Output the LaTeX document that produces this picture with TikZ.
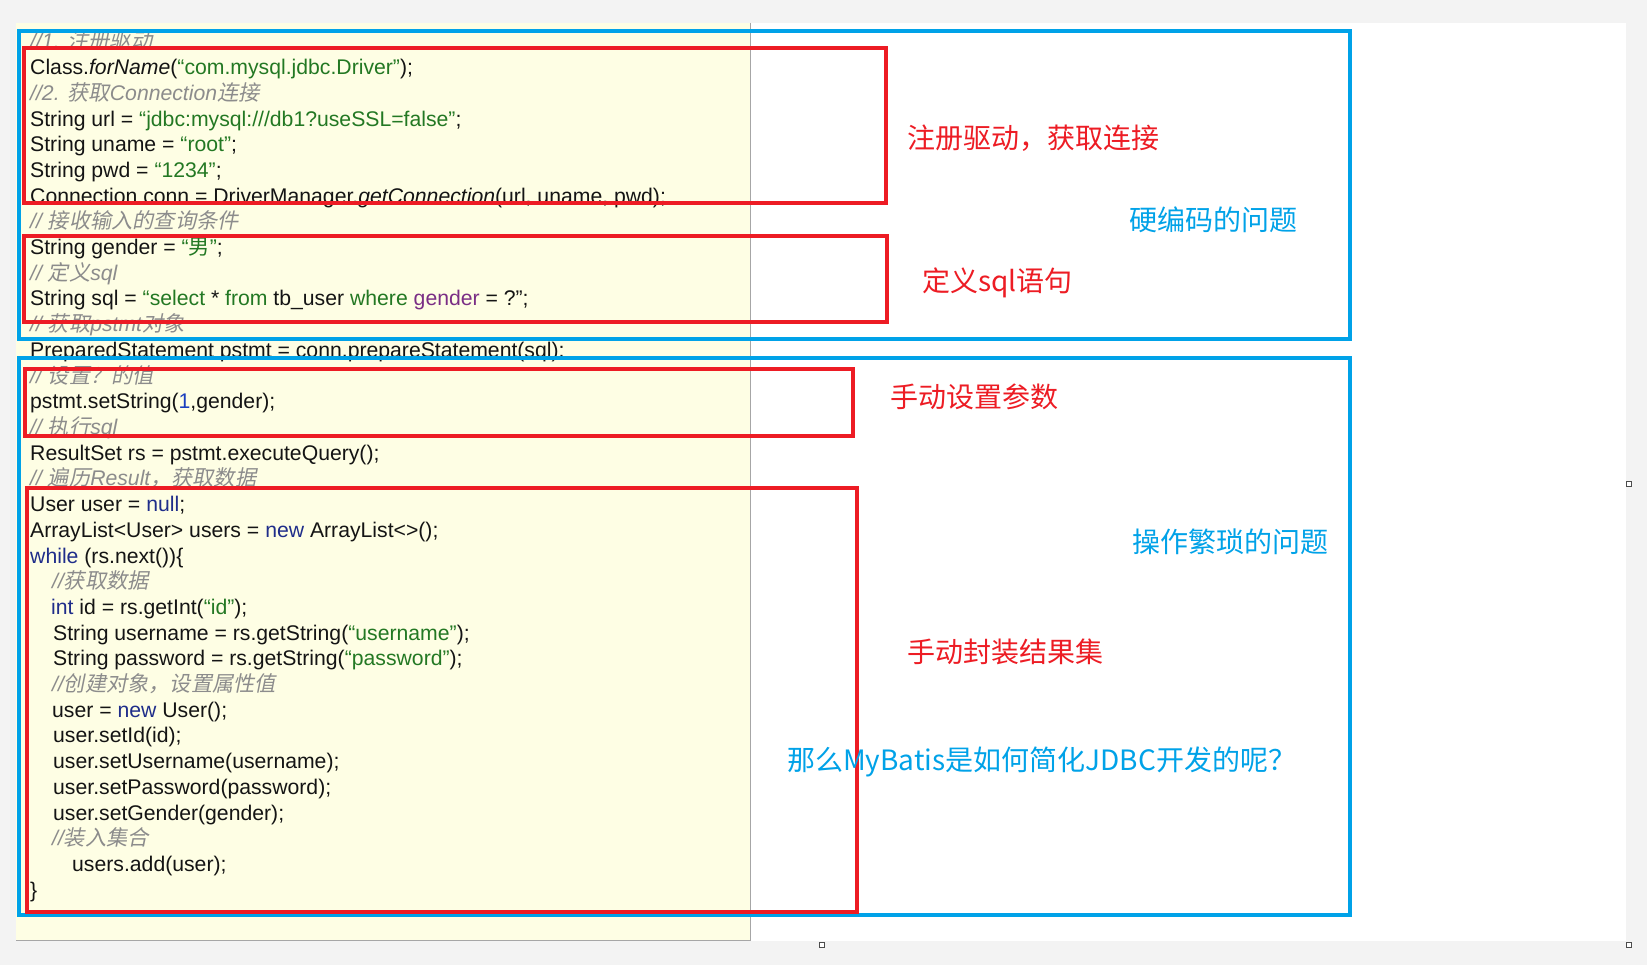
\documentclass[tikz,border=0pt]{standalone}
\usepackage{fontspec}
\setmainfont{Liberation Sans}
\newfontfamily\jzhfont{Noto Sans CJK SC}
\newfontfamily\jzhifont[FakeSlant=0.2]{Noto Sans CJK SC}
\definecolor{pagebg}{HTML}{F3F3F3}
\definecolor{codebg}{HTML}{FEFEE4}
\definecolor{boxred}{HTML}{ED1C24}
\definecolor{boxblue}{HTML}{00A2E8}
\definecolor{cstr}{HTML}{237823}
\definecolor{ckw}{HTML}{1F2D8A}
\definecolor{ccom}{HTML}{8C8C8C}
\definecolor{cpur}{HTML}{7A2E85}
\definecolor{cnum}{HTML}{1B3FBF}
\definecolor{ctext}{HTML}{141414}
\newcommand{\jstr}[1]{\textcolor{cstr}{#1}}
\newcommand{\jkw}[1]{\textcolor{ckw}{#1}}
\newcommand{\jcom}[1]{\textcolor{ccom}{\itshape #1}}
\newcommand{\jzh}[1]{{\jzhfont #1}}
\newcommand{\jzhi}[1]{{\jzhifont #1}}
\tikzset{
  codeline/.style={anchor=base west, inner sep=0pt, text=ctext,
    font=\fontsize{21.2}{25}\selectfont},
  redbox/.style={draw=boxred, line width=4.5pt},
  bluebox/.style={draw=boxblue, line width=4.5pt},
  redlabel/.style={anchor=west, inner sep=0pt, text=boxred,
    font=\jzhfont\fontsize{28}{32}\selectfont},
  bluelabel/.style={anchor=west, inner sep=0pt, text=boxblue,
    font=\jzhfont\fontsize{28}{32}\selectfont},
  handle/.style={draw=black!70, fill=white, line width=0.8pt,
    minimum size=5pt, inner sep=0pt}
}
\begin{document}
\begin{tikzpicture}[x=1pt,y=-1pt]
\useasboundingbox (0,0) rectangle (1647,965);
% backgrounds
\fill[pagebg] (0,0) rectangle (1647,965);
\fill[white] (16,23) rectangle (1626,941);
\fill[codebg] (16,23) rectangle (750,940);
\draw[black!35, line width=1pt] (750,23) -- (750,940) -- (16,940);
% code lines
\def\bl#1{49+25.7*#1}
\node[codeline] (c0) at (30,{\bl{0}}) {\jcom{//1. \jzhi{注册驱动}}};
\node[codeline] (c1) at (30,{\bl{1}}) {Class.{\itshape forName}(\jstr{“com.mysql.jdbc.Driver”});};
\node[codeline] (c2) at (30,{\bl{2}}) {\jcom{//2. \jzhi{获取}Connection\jzhi{连接}}};
\node[codeline] (c3) at (30,{\bl{3}}) {String url = \jstr{“jdbc:mysql:///db1?useSSL=false”};};
\node[codeline] (c4) at (30,{\bl{4}}) {String uname = \jstr{“root”};};
\node[codeline] (c5) at (30,{\bl{5}}) {String pwd = \jstr{“1234”};};
\node[codeline] (c6) at (30,{\bl{6}}) {Connection conn = DriverManager.{\itshape getConnection}(url, uname, pwd);};
\node[codeline] (c7) at (30,{\bl{7}}) {\jcom{// \jzhi{接收输入的查询条件}}};
\node[codeline] (c8) at (30,{\bl{8}}) {String gender = \jstr{“\jzh{男}”};};
\node[codeline] (c9) at (30,{\bl{9}}) {\jcom{// \jzhi{定义}sql}};
\node[codeline] (c10) at (30,{\bl{10}}) {String sql = \jstr{“select} * \jstr{from} tb\_user \jstr{where} \textcolor{cpur}{gender} = ?”;};
\node[codeline] (c11) at (30,{\bl{11}}) {\jcom{// \jzhi{获取}pstmt\jzhi{对象}}};
\node[codeline] (c12) at (30,{\bl{12}}) {PreparedStatement pstmt = conn.prepareStatement(sql);};
\node[codeline] (c13) at (30,{\bl{13}}) {\jcom{// \jzhi{设置？的值}}};
\node[codeline] (c14) at (30,{\bl{14}}) {pstmt.setString(\textcolor{cnum}{1},gender);};
\node[codeline] (c15) at (30,{\bl{15}}) {\jcom{// \jzhi{执行}sql}};
\node[codeline] (c16) at (30,{\bl{16}}) {ResultSet rs = pstmt.executeQuery();};
\node[codeline] (c17) at (30,{\bl{17}}) {\jcom{// \jzhi{遍历}Result\jzhi{，获取数据}}};
\node[codeline] (c18) at (30,{\bl{18}}) {User user = \jkw{null};};
\node[codeline] (c19) at (30,{\bl{19}}) {ArrayList<User> users = \jkw{new} ArrayList<>();};
\node[codeline] (c20) at (30,{\bl{20}}) {\jkw{while} (rs.next())\{};
\node[codeline] (c21) at (52,{\bl{21}}) {\jcom{//\jzhi{获取数据}}};
\node[codeline] (c22) at (51,{\bl{22}}) {\jkw{int} id = rs.getInt(\jstr{“id”});};
\node[codeline] (c23) at (53,{\bl{23}}) {String username = rs.getString(\jstr{“username”});};
\node[codeline] (c24) at (53,{\bl{24}}) {String password = rs.getString(\jstr{“password”});};
\node[codeline] (c25) at (52,{\bl{25}}) {\jcom{//\jzhi{创建对象，设置属性值}}};
\node[codeline] (c26) at (52,{\bl{26}}) {user = \jkw{new} User();};
\node[codeline] (c27) at (53,{\bl{27}}) {user.setId(id);};
\node[codeline] (c28) at (53,{\bl{28}}) {user.setUsername(username);};
\node[codeline] (c29) at (53,{\bl{29}}) {user.setPassword(password);};
\node[codeline] (c30) at (53,{\bl{30}}) {user.setGender(gender);};
\node[codeline] (c31) at (52,{\bl{31}}) {\jcom{//\jzhi{装入集合}}};
\node[codeline] (c32) at (72,{\bl{32}}) {users.add(user);};
\node[codeline] (c33) at (30,{\bl{33}}) {\}};
% blue boxes
\draw[bluebox] (19,31) rectangle (1350,339);
\draw[bluebox] (19,358) rectangle (1350,915);
% red boxes
\draw[redbox] (24,48) rectangle (886,203);
\draw[redbox] (24,236) rectangle (887,322);
\draw[redbox] (25,369) rectangle (853,436);
\draw[redbox] (27,488) rectangle (857,912);
% labels
\node[redlabel] (l1) at (907,138) {注册驱动，获取连接};
\node[bluelabel] (l2) at (1129,220) {硬编码的问题};
\node[redlabel] (l3) at (922,283) {定义sql语句};
\node[redlabel] (l4) at (890,397) {手动设置参数};
\node[bluelabel] (l5) at (1132,542) {操作繁琐的问题};
\node[redlabel] (l6) at (907,652) {手动封装结果集};
\node[bluelabel] (l7) at (787,762) {那么MyBatis是如何简化JDBC开发的呢？};
% selection handles
\node[handle] (h1) at (1629,484) {};
\node[handle] (h2) at (822,945) {};
\node[handle] (h3) at (1629,945) {};
\end{tikzpicture}
\end{document}
